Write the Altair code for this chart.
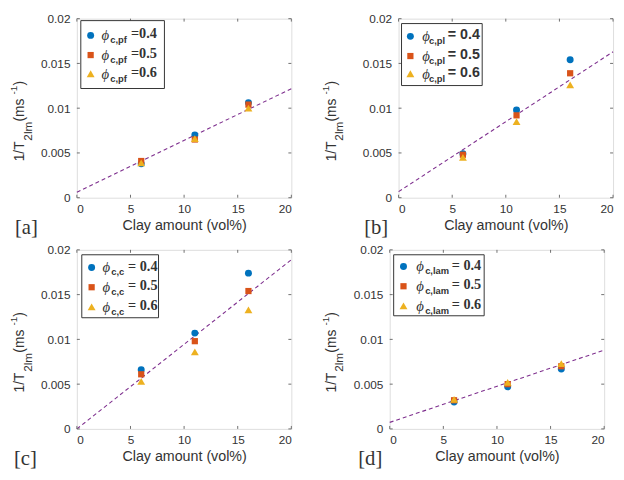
import altair as alt
import pandas as pd

# ---------------- data ----------------
clay = [6, 11, 16]
phi_labels = ["0.4", "0.5", "0.6"]

a_04 = [0.0038, 0.0070, 0.0106]
a_05 = [0.0041, 0.0065, 0.0104]
a_06 = [0.0039, 0.0066, 0.0100]
a_fit = [0.00062, 0.01218]

b_04 = [0.0049, 0.0098, 0.0154]
b_05 = [0.0048, 0.0092, 0.0139]
b_06 = [0.0045, 0.0085, 0.0126]
b_fit = [0.00068, 0.0163]

c_04 = [0.0066, 0.0107, 0.0174]
c_05 = [0.0061, 0.0098, 0.0154]
c_06 = [0.0053, 0.0086, 0.0133]
c_fit = [0.0, 0.0189]

d_04 = [0.0030, 0.0047, 0.0067]
d_05 = [0.0032, 0.0050, 0.0070]
d_06 = [0.0033, 0.0052, 0.0073]
d_fit = [0.00073, 0.0088]

fit_x = [0, 20]
x_ticks = [0, 5, 10, 15, 20]
y_ticks = [0, 0.005, 0.01, 0.015, 0.02]

colors = ["#0072BD", "#D95319", "#EDB120"]
shapes = ["circle", "square", "triangle-up"]
sizes = [50, 40, 64]
line_color = "#7E2F8E"
frame_color = "#6e6e6e"
text_color = "#333333"
SANS = "Liberation Sans, Arial, sans-serif"
SERIF = "Liberation Serif, Times New Roman, serif"

W, H = 218, 182

X = alt.X("x:Q", scale=alt.Scale(domain=[0, 20], nice=False, zero=False),
          axis=alt.Axis(values=x_ticks, title="Clay amount (vol%)", ticks=False,
                        domain=False, grid=False, labelFontSize=12, titleFontSize=14.5,
                        labelPadding=6, titlePadding=4, labelColor=text_color,
                        titleColor=text_color, titleFontWeight="normal",
                        labelFont=SANS, titleFont=SANS))
Y = alt.Y("y:Q", scale=alt.Scale(domain=[0, 0.02], nice=False, zero=False),
          axis=alt.Axis(values=y_ticks, format=".3~f", title=None, ticks=False,
                        domain=False, grid=False, labelFontSize=12, labelPadding=7,
                        labelColor=text_color, labelFont=SANS))


def txt(text, x, y, size, weight="normal", font=SANS, style="normal",
        angle=0, align="left", baseline="middle"):
    kw = dict(text=text, fontSize=size, fontWeight=weight, font=font, fontStyle=style,
              align=align, baseline=baseline, color=text_color)
    if angle:
        kw["angle"] = angle
    return alt.Chart(pd.DataFrame({"k": [0]})).mark_text(**kw).encode(
        x=alt.value(x), y=alt.value(y))


def panel(tag, series, fit, sub, leg, label_x, title_x, val_font, eq):
    layers = []
    # fit line
    fdf = pd.DataFrame({"x": fit_x, "y": fit})
    layers.append(alt.Chart(fdf).mark_line(color=line_color, strokeDash=[4, 3],
                                           strokeWidth=1.1).encode(x=X, y=Y))
    # data points
    for i, vals in enumerate(series):
        pdf = pd.DataFrame({"x": clay, "y": vals})
        layers.append(alt.Chart(pdf).mark_point(filled=True, opacity=1, shape=shapes[i],
                                                size=sizes[i], color=colors[i]).encode(x=X, y=Y))
    # inward ticks
    ydf = pd.DataFrame({"y": y_ticks})
    xdf = pd.DataFrame({"x": x_ticks})
    layers.append(alt.Chart(ydf).mark_rule(color=frame_color).encode(
        y=Y, x=alt.value(0), x2=alt.value(3)))
    layers.append(alt.Chart(ydf).mark_rule(color=frame_color).encode(
        y=Y, x=alt.value(W - 3), x2=alt.value(W)))
    layers.append(alt.Chart(xdf).mark_rule(color=frame_color).encode(
        x=X, y=alt.value(H), y2=alt.value(H - 3)))
    layers.append(alt.Chart(xdf).mark_rule(color=frame_color).encode(
        x=X, y=alt.value(0), y2=alt.value(3)))
    # legend box
    bx0, bx1, by0, by1, rows, sym_x, phi_x, sub_x, val_x = leg
    layers.append(alt.Chart(pd.DataFrame({"k": [0]})).mark_rect(
        fill="white", stroke="#333333", strokeWidth=1).encode(
        x=alt.value(bx0), x2=alt.value(bx1), y=alt.value(by0), y2=alt.value(by1)))
    for i in range(3):
        ry = rows[i]
        layers.append(alt.Chart(pd.DataFrame({"k": [0]})).mark_point(
            filled=True, opacity=1, shape=shapes[i], size=sizes[i], color=colors[i]).encode(
            x=alt.value(sym_x), y=alt.value(ry)))
        layers.append(txt("\u03d5", phi_x, ry, 15, font=SERIF, style="italic"))
        layers.append(txt(sub, sub_x, ry + 5, 9.5, weight="bold"))
        layers.append(txt(eq + phi_labels[i], val_x, ry - 1, 14.5, weight="bold", font=val_font))
    # y title built from pieces (rotated)
    ybot = H / 2 + 54
    pieces = [("1/T", 14, 0, 21.0), ("2lm", 12, 8, 19.5), (" (ms", 14, 0, 27.5),
              ("-1", 10, -6, 9.0), (")", 14, 0, 5.0)]
    cur = ybot
    for t, s, dx, w in pieces:
        layers.append(txt(t, title_x + dx, cur, s, angle=270))
        cur -= w
    # panel label
    layers.append(txt("[" + tag + "]", label_x, H + 31, 21, font=SERIF))
    return alt.layer(*layers).properties(width=W, height=H)


leg_a = (4, 89, 2, 71, [17, 37, 56], 14, 25, 34, 55)
leg_b = (3, 85, 5, 68, [18, 38, 56], 12, 24, 31, 50)
leg_c = (5, 83, 5, 69, [18, 38, 58], 15, 26, 35, 52)
leg_d = (4, 96, 5, 67, [17, 37, 57], 14, 27, 36, 63)

pa = panel("a", [a_04, a_05, a_06], a_fit, "c,pf", leg_a, -63, -58, SERIF, "=")
pb = panel("b", [b_04, b_05, b_06], b_fit, "c,pl", leg_b, -35, -68, SANS, "= ")
pc = panel("c", [c_04, c_05, c_06], c_fit, "c,c", leg_c, -64, -58, SERIF, "= ")
pd_ = panel("d", [d_04, d_05, d_06], d_fit, "c,lam", leg_d, -32, -59, SERIF, "= ")

chart = alt.vconcat(
    alt.hconcat(pa, pb, spacing=26),
    alt.hconcat(pc, pd_, spacing=26),
    spacing=4,
).properties(padding=0).configure_view(stroke=frame_color, strokeWidth=1).configure(
    background="white")

chart.save("out.html", embed_options={"renderer": "svg", "actions": False})
